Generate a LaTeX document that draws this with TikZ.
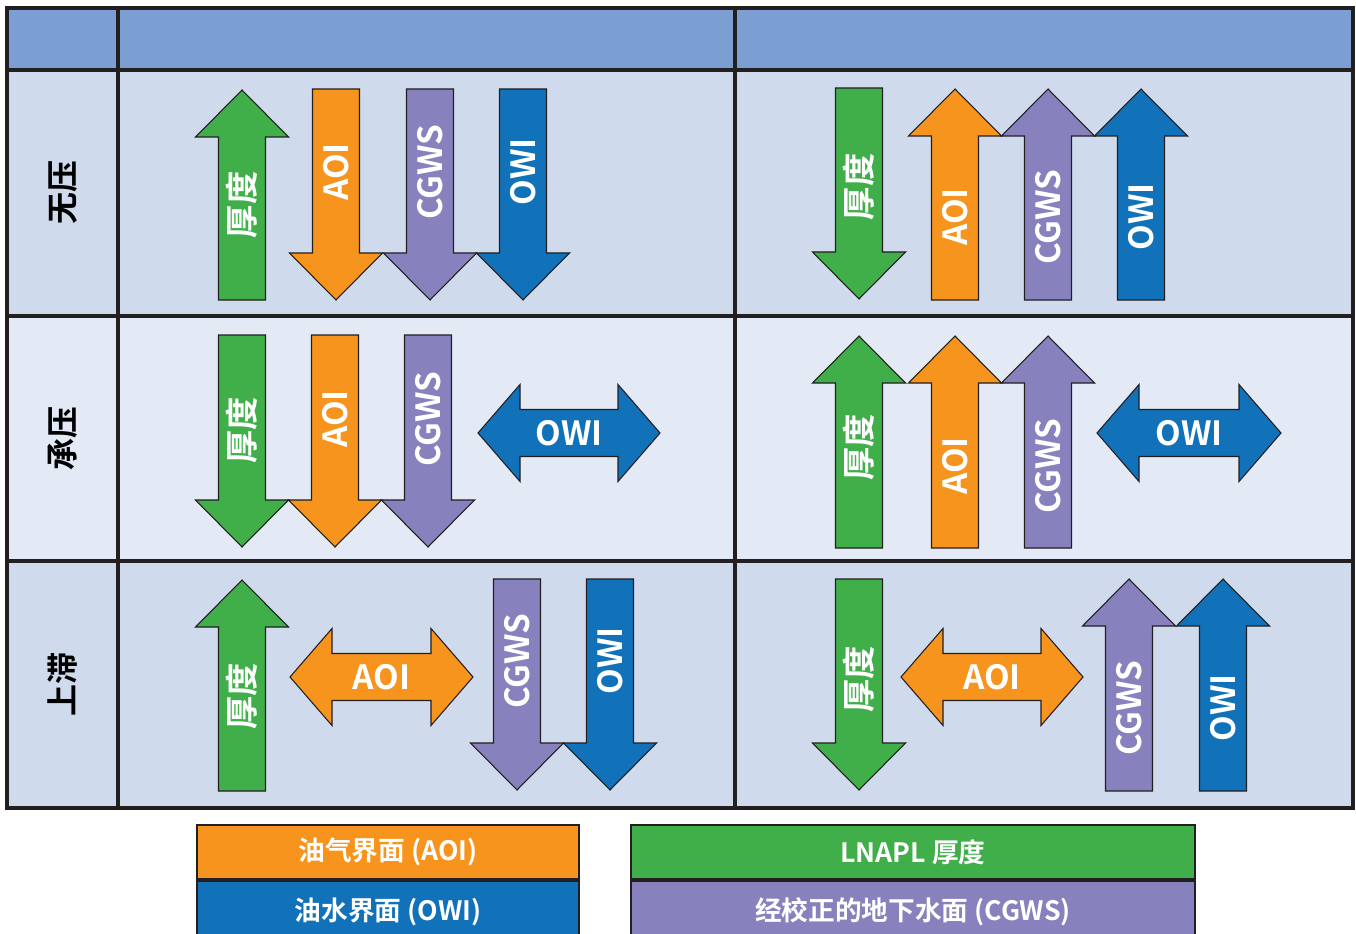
\documentclass[tikz,border=0pt]{standalone}
\usepackage{fontspec}
\setmainfont{Noto Sans CJK SC}[BoldFont=* Bold]
\usepackage{tikz}
\usetikzlibrary{calc}

\definecolor{cGreen}{HTML}{40AE49}
\definecolor{cOrange}{HTML}{F7941D}
\definecolor{cPurple}{HTML}{8781BD}
\definecolor{cBlue}{HTML}{1172BA}
\definecolor{cHead}{HTML}{7B9FD2}
\definecolor{cRowA}{HTML}{CFDAED}
\definecolor{cRowB}{HTML}{E3E9F5}
\definecolor{cLine}{HTML}{231F20}

% vertical arrow: name, colour, x, tip y, tail y, label, label y
\newcommand{\vArrow}[7]{%
  \pgfmathsetmacro{\hd}{(#5>#4) ? 47 : -47}
  \draw[arrowline, fill=#2] (#3,#4) -- ++(46.5,\hd) -- ++(-23,0) -- (#3+23.5,#5)
    -- (#3-23.5,#5) -- (#3-23.5,#4+\hd) -- ++(-23,0) -- cycle;
  \node[arrowtext, rotate=90] (#1) at (#3,#7) {#6};
}
% double arrow: name, colour, left x, right x, y, label
\newcommand{\hArrow}[6]{%
  \draw[arrowline, fill=#2] (#3,#5) -- (#3+42,#5-48.5) -- (#3+42,#5-23.5) -- (#4-42,#5-23.5)
    -- (#4-42,#5-48.5) -- (#4,#5) -- (#4-42,#5+48.5) -- (#4-42,#5+23.5)
    -- (#3+42,#5+23.5) -- (#3+42,#5+48.5) -- cycle;
  \node[arrowtext] (#1) at ({(#3+#4)/2},#5) {#6};
}

\begin{document}
\begin{tikzpicture}[x=0.75pt, y=-0.75pt,
    arrowline/.style={draw=cLine, line width=0.8pt, line join=miter},
    arrowtext/.style={text=white, font=\bfseries\fontsize{25}{28}\selectfont, inner sep=0pt},
    rowtext/.style={text=black, font=\bfseries\fontsize{24}{28}\selectfont, inner sep=0pt, rotate=90},
    gridline/.style={draw=cLine, line width=3.4pt},
    legbox/.style={draw=cLine, line width=1.4pt, text=white, inner sep=0pt,
      font=\bfseries\fontsize{20}{24}\selectfont, minimum height=41pt}]
  \useasboundingbox (0,0) rectangle (1356,934);

  % table
  \fill[cHead] (7,8) rectangle (1353,70);
  \fill[cRowA] (7,70) rectangle (1353,316);
  \fill[cRowB] (7,316) rectangle (1353,561);
  \fill[cRowA] (7,561) rectangle (1353,808);
  \draw[gridline] (7,8) rectangle (1353,808);
  \draw[gridline] (7,70) -- (1353,70) (7,316) -- (1353,316) (7,561) -- (1353,561);
  \draw[gridline] (118,8) -- (118,808) (735,8) -- (735,808);

  \node[rowtext] (r1) at (63,193) {无压};
  \node[rowtext] (r2) at (63,438) {承压};
  \node[rowtext] (r3) at (63,684) {上滞};

  % row 1
  \vArrow{a11}{cGreen}{242}{90}{300}{厚度}{205}
  \vArrow{a12}{cOrange}{336}{300}{89}{AOI}{172}
  \vArrow{a13}{cPurple}{430}{300}{89}{CGWS}{172}
  \vArrow{a14}{cBlue}{523}{300}{89}{OWI}{172}
  \vArrow{b11}{cGreen}{859}{299}{88}{厚度}{187}
  \vArrow{b12}{cOrange}{955}{89}{300}{AOI}{217}
  \vArrow{b13}{cPurple}{1048}{89}{300}{CGWS}{217}
  \vArrow{b14}{cBlue}{1141}{89}{300}{OWI}{217}

  % row 2
  \vArrow{a21}{cGreen}{242}{547}{335}{厚度}{430}
  \vArrow{a22}{cOrange}{335}{547}{335}{AOI}{419}
  \vArrow{a23}{cPurple}{428}{547}{335}{CGWS}{419}
  \hArrow{a24}{cBlue}{478}{660}{433}{OWI}
  \vArrow{b21}{cGreen}{859}{336}{548}{厚度}{447}
  \vArrow{b22}{cOrange}{955}{336}{548}{AOI}{466}
  \vArrow{b23}{cPurple}{1048}{336}{548}{CGWS}{466}
  \hArrow{b24}{cBlue}{1097}{1281}{433}{OWI}

  % row 3
  \vArrow{a31}{cGreen}{242}{580}{791}{厚度}{696}
  \hArrow{a32}{cOrange}{290}{473}{677}{AOI}
  \vArrow{a33}{cPurple}{517}{790}{579}{CGWS}{661}
  \vArrow{a34}{cBlue}{610}{790}{579}{OWI}{661}
  \vArrow{b31}{cGreen}{859}{790}{579}{厚度}{679}
  \hArrow{b32}{cOrange}{901}{1083}{677}{AOI}
  \vArrow{b33}{cPurple}{1129}{579}{791}{CGWS}{708}
  \vArrow{b34}{cBlue}{1223}{579}{791}{OWI}{708}

  % legend
  \node[legbox, fill=cOrange, minimum width=286.5pt] (legAOI) at (388,852) {油气界面 (AOI)};
  \node[legbox, fill=cBlue, minimum width=286.5pt, minimum height=46pt, anchor=north] (legOWI) at (legAOI.south) {油水界面 (OWI)};
  \node[legbox, fill=cGreen, minimum width=423pt] (legLN) at (913,852) {LNAPL 厚度};
  \node[legbox, fill=cPurple, minimum width=423pt, minimum height=46pt, anchor=north] (legCG) at (legLN.south) {经校正的地下水面 (CGWS)};
\end{tikzpicture}
\end{document}
